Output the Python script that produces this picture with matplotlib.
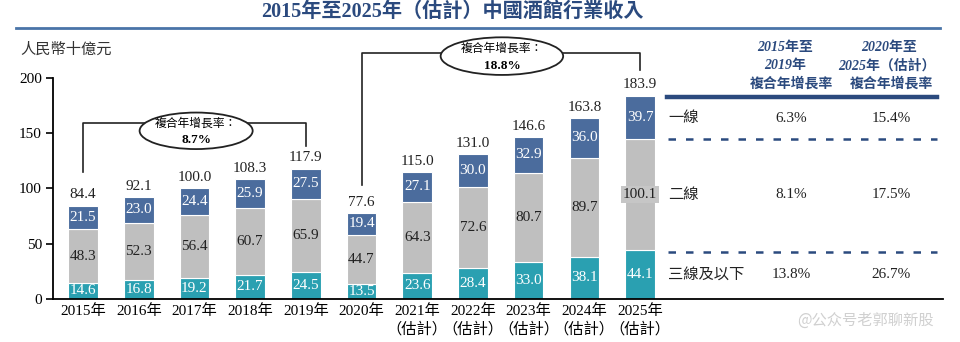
import matplotlib
matplotlib.use("Agg")
import matplotlib.pyplot as plt
from matplotlib.patches import Ellipse
import numpy as np

plt.rcParams['font.family'] = ['Liberation Serif', 'Noto Sans CJK TC']

years = ["2015年", "2016年", "2017年", "2018年", "2019年", "2020年",
         "2021年\n（估計）", "2022年\n（估計）", "2023年\n（估計）", "2024年\n（估計）", "2025年\n（估計）"]
tier1 = [21.5, 23.0, 24.4, 25.9, 27.5, 19.4, 27.1, 30.0, 32.9, 36.0, 39.7]
tier2 = [48.3, 52.3, 56.4, 60.7, 65.9, 44.7, 64.3, 72.6, 80.7, 89.7, 100.1]
tier3 = [14.6, 16.8, 19.2, 21.7, 24.5, 13.5, 23.6, 28.4, 33.0, 38.1, 44.1]
totals = [84.4, 92.1, 100.0, 108.3, 117.9, 77.6, 115.0, 131.0, 146.6, 163.8, 183.9]

cagr_labels = ["8.7%", "18.8%"]
table_rows = ["一線", "二線", "三線及以下"]
cagr_15_19 = ["6.3%", "8.1%", "13.8%"]
cagr_20_25 = ["15.4%", "17.5%", "26.7%"]

C_TOP = '#4b6c9d'
C_MID = '#bfbfbf'
C_BOT = '#2aa0b1'
NAVY = '#2b4a7e'

W, H = 960, 342
fig = plt.figure(figsize=(W / 100, H / 100), dpi=100)

def fx(px):
    return px / W

def fy(py):
    return 1 - py / H

ax = fig.add_axes([fx(53), fy(299), (943 - 53) / W, (299 - 77.7) / H])
x = np.arange(len(years))
bw = 0.53
ax.bar(x, tier3, bw, color=C_BOT, edgecolor='white', linewidth=0.8)
ax.bar(x, tier2, bw, bottom=tier3, color=C_MID, edgecolor='white', linewidth=0.8)
b2 = np.array(tier3) + np.array(tier2)
ax.bar(x, tier1, bw, bottom=b2, color=C_TOP, edgecolor='white', linewidth=0.8)

ax.set_xlim(-0.54, 15.44)
ax.set_ylim(0, 200)
ax.spines['top'].set_visible(False)
ax.spines['right'].set_visible(False)
ax.spines['left'].set_bounds(0, 200)
ax.spines['left'].set_linewidth(1.3)
ax.spines['bottom'].set_linewidth(1.3)
ax.set_yticks([0, 50, 100, 150, 200])
ax.tick_params(axis='y', direction='out', length=5, width=1.2, labelsize=11, pad=3)
ax.set_xticks(x)
ax.set_xticklabels(years, fontsize=11, linespacing=1.25)
ax.tick_params(axis='x', length=0, pad=4)

fs = 11
for i in range(len(years)):
    ax.text(x[i], tier3[i] / 2, f"{tier3[i]:.1f}", ha='center', va='center', color='white', fontsize=fs)
    mid_kw = {}
    if i == len(years) - 1:
        mid_kw = dict(bbox=dict(boxstyle='square,pad=0.12', facecolor='#c6c6c6', edgecolor='none'))
    ax.text(x[i], tier3[i] + tier2[i] / 2, f"{tier2[i]:.1f}", ha='center', va='center', color='#222222', fontsize=fs, **mid_kw)
    ax.text(x[i], b2[i] + tier1[i] / 2, f"{tier1[i]:.1f}", ha='center', va='center', color='white', fontsize=fs)
    ax.annotate(f"{totals[i]:.1f}", (x[i], totals[i]), xytext=(0, 3), textcoords='offset points',
                ha='center', va='bottom', fontsize=fs, color='#222222')

# CAGR brackets
def bracket(i0, i1, y_top, y0, y1, ex, ey, ew, eh, label):
    ax.plot([x[i0], x[i0], x[i1], x[i1]], [y0, y_top, y_top, y1], color='#222222', lw=1.2, clip_on=False, zorder=3)
    e = Ellipse((ex, ey), ew, eh, facecolor='white', edgecolor='#222222', lw=1.3, clip_on=False, zorder=4)
    ax.add_patch(e)
    ax.text(ex, ey + eh * 0.2, "複合年增長率：", ha='center', va='center', fontsize=8.5,
            family=['Noto Sans CJK TC'], zorder=5, clip_on=False)
    ax.text(ex, ey - eh * 0.26, label, ha='center', va='center', fontsize=9.5, weight='bold', zorder=5, clip_on=False)

bracket(0, 4, 159, totals[0] + 30, totals[4] + 20, 2.03, 152, 2.03, 33, cagr_labels[0])
bracket(5, 10, 222, totals[5] + 25, totals[10] + 23, 7.52, 219.5, 2.2, 34, cagr_labels[1])

# Title
fig.text(fx(452), fy(12), "2015年至2025年（估計）中國酒館行業收入", ha='center', va='center',
         fontsize=14.5, weight='bold', color=NAVY, family=['Liberation Serif', 'Noto Sans CJK TC'])
fig.add_artist(plt.Line2D([fx(16), fx(940)], [fy(28), fy(28)], color='#4a74a8', lw=2))

fig.text(fx(20), fy(50), "人民幣十億元", ha='left', va='center', fontsize=11, style='italic', color='#333333')

# Table
hdr_kw = dict(ha='center', va='center', fontsize=10, weight='bold', style='italic', color=NAVY)
fig.text(fx(785), fy(48), "2015年至", **hdr_kw)
fig.text(fx(785), fy(66), "2019年", **hdr_kw)
fig.text(fx(791), fy(84), "複合年增長率", **hdr_kw)
fig.text(fx(889), fy(48), "2020年至", **hdr_kw)
fig.text(fx(887), fy(66), "2025年（估計）", **hdr_kw)
fig.text(fx(891), fy(84), "複合年增長率", **hdr_kw)
fig.add_artist(plt.Line2D([fx(667), fx(937)], [fy(97), fy(97)], color=NAVY, lw=3.2))
for yy in (139, 252):
    fig.add_artist(plt.Line2D([fx(668), fx(937)], [fy(yy), fy(yy)], color=NAVY, lw=1.8,
                              linestyle=(0, (3, 4))))
row_y = [118, 195, 275]
for r, yy in enumerate(row_y):
    fig.text(fx(668), fy(yy), table_rows[r], ha='left', va='center', fontsize=11, color='#222222')
    fig.text(fx(791), fy(yy), cagr_15_19[r], ha='center', va='center', fontsize=11, color='#222222')
    fig.text(fx(891), fy(yy), cagr_20_25[r], ha='center', va='center', fontsize=11, color='#222222')

# watermark
fig.text(fx(865), fy(320), "@公众号老郭聊新股", ha='center', va='center', fontsize=11, color='#d0d0d0',
         family=['Noto Sans CJK SC'], zorder=0)

fig.savefig("out.png", dpi=100)
